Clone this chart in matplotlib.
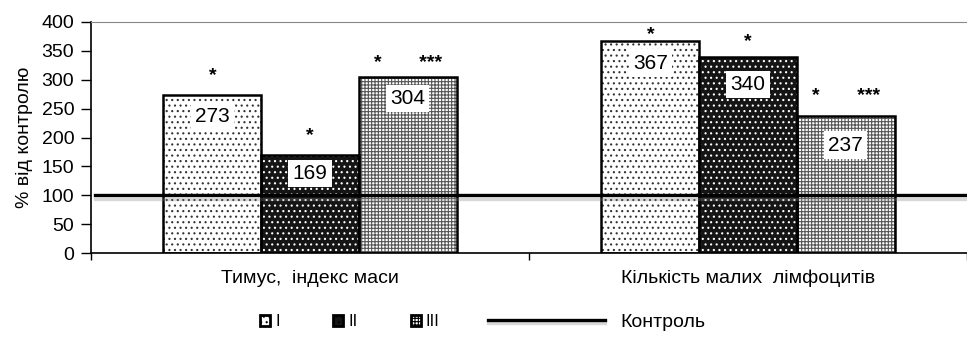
import matplotlib.pyplot as plt
import matplotlib.patheffects as pe
from matplotlib.patches import Patch
from matplotlib.lines import Line2D
import numpy as np

plt.rcParams['font.family'] = ['Liberation Sans', 'DejaVu Sans']
plt.rcParams['hatch.linewidth'] = 0.8

categories = ['Тимус,  індекс маси', 'Кількість малих  лімфоцитів']
series_names = ['I', 'II', 'III']
values_I = [273, 367]
values_II = [169, 340]
values_III = [304, 237]
stars_I = ['*', '*']
stars_II = ['*', '*']
stars_III = ['*       ***', '*       ***']
control_value = 100
control_label = 'Контроль'
y_ticks = [0, 50, 100, 150, 200, 250, 300, 350, 400]

# styles per series: (face, hatch colour, hatch)
styles = [('white', '#333333', '...'),
          ('#151515', 'white', '...'),
          ('white', '#555555', '+++++')]
star_off = [[20, 6], [20, 15], [14, 20]]     # px above bar top
label_off = [[21, 22], [18, 28], [21, 29]]   # px below bar top

fig = plt.figure(figsize=(9.67, 3.42), dpi=100)
ax = fig.add_axes([91 / 967, 1 - 253 / 342, 1 - 91 / 967, (253 - 22) / 342])

x = np.arange(len(categories))
w = 0.223
px = 72 / 100
all_vals = [values_I, values_II, values_III]
all_stars = [stars_I, stars_II, stars_III]
for i, vals in enumerate(all_vals):
    face, hcol, hatch = styles[i]
    pos = x + (i - 1) * w
    ax.bar(pos, vals, w, color=face, edgecolor=hcol, hatch=hatch, linewidth=0, zorder=2)
    ax.bar(pos, vals, w, fill=False, edgecolor='black', linewidth=1.8, zorder=3)
    for j, v in enumerate(vals):
        ax.annotate(str(v), (pos[j], v), xytext=(0, -label_off[i][j] * px),
                    textcoords='offset points', ha='center', va='center', fontsize=15,
                    bbox=dict(boxstyle='square,pad=0.2', fc='white', ec='none'), zorder=5)
        ax.annotate(all_stars[i][j], (pos[j], v), xytext=(0, star_off[i][j] * px),
                    textcoords='offset points', ha='center', va='center', fontsize=14,
                    fontweight='bold', zorder=5)

ax.axhline(control_value, xmin=0.005, xmax=1, color='black', linewidth=2.4, zorder=4,
           path_effects=[pe.SimpleLineShadow(offset=(0, -2.5), shadow_color='gray', alpha=0.3),
                         pe.Normal()])

ax.set_ylim(0, 400)
ax.set_xlim(-0.5, -0.5 + (967 - 91) / 444)
ax.set_yticks(y_ticks)
ax.tick_params(axis='y', labelsize=14, direction='out', length=7, width=1, pad=5)
ax.set_xticks(x)
ax.set_xticklabels(categories, fontsize=14)
ax.tick_params(axis='x', which='major', length=0, pad=12)
ax.set_xticks([-0.5, 0.5, 1.5], minor=True)
ax.tick_params(axis='x', which='minor', length=5, direction='out', width=1)
ax.set_ylabel('% від контролю', fontsize=14, labelpad=6)
ax.spines['right'].set_visible(False)
ax.spines['top'].set_color('#888888')
ax.spines['left'].set_linewidth(1.2)
ax.spines['bottom'].set_linewidth(1.2)

bar_handles = []
for i in range(3):
    face, hcol, hatch = styles[i]
    bar_handles.append(Patch(facecolor=face, edgecolor='black', hatch=hatch, linewidth=2))
fig.legend(bar_handles, series_names, loc='center', bbox_to_anchor=(350 / 967, 1 - 322 / 342),
           ncol=3, frameon=False, handlelength=0.6, handleheight=0.6, handletextpad=0.3,
           columnspacing=3.2, fontsize=12)
line_handle = Line2D([0], [0], color='black', linewidth=2.4,
                     path_effects=[pe.SimpleLineShadow(offset=(0, -2), shadow_color='gray', alpha=0.3),
                                   pe.Normal()])
fig.legend([line_handle], [control_label], loc='center', bbox_to_anchor=(597 / 967, 1 - 322 / 342),
           frameon=False, handlelength=6, handletextpad=0.8, fontsize=14)

fig.savefig('out.png', dpi=100)
